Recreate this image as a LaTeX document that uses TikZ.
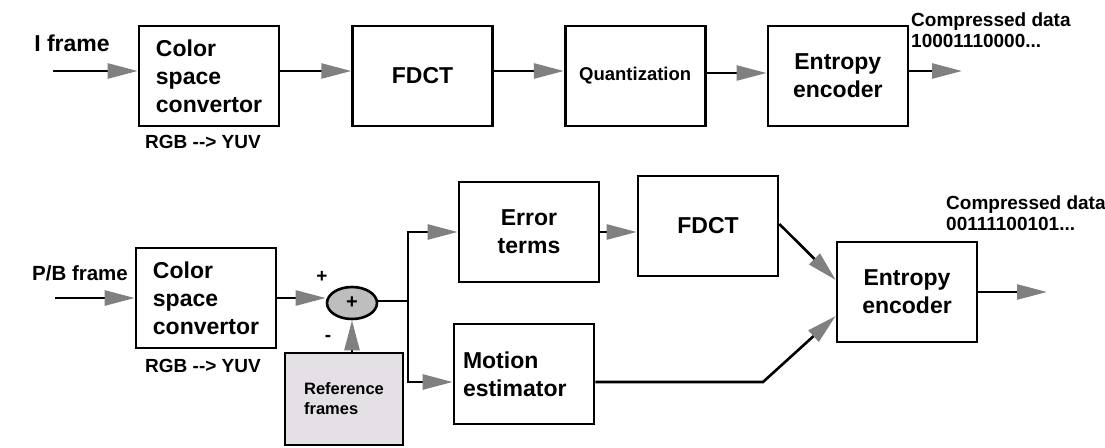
\documentclass[tikz,border=0pt]{standalone}
\usepackage{fontspec}
\setmainfont{Liberation Sans}
\usetikzlibrary{
	positioning,
	arrows.meta,
	shapes.geometric}
\definecolor{tipgray}{RGB}{128,128,128}
\definecolor{refgray}{RGB}{228,224,230}
\definecolor{sumgray}{RGB}{190,190,190}
\tikzset{
	line size/.store in=\lwidth,
	line size=2.6pt,
	block/.style={
		rectangle,
		draw=black,
		line width=\lwidth,
		minimum width=140pt,
		minimum height=100pt,
		inner sep=0pt,
		align=center,
		font=\bfseries\fontsize{23}{28}\selectfont
	},
	small block/.style={
		block,
		font=\bfseries\fontsize{18.5}{22}\selectfont
	},
	ref block/.style={
		block,
		fill=refgray,
		minimum width=118pt,
		minimum height=92pt,
		font=\bfseries\fontsize{16.5}{20}\selectfont
	},
	sum point/.style={
		ellipse,
		draw=black,
		fill=sumgray,
		line width=\lwidth,
		minimum width=50pt,
		minimum height=32pt,
		inner sep=0pt,
		font=\bfseries\fontsize{20}{20}\selectfont
	},
	label text/.style={
		inner sep=0pt,
		font=\bfseries\fontsize{23}{28}\selectfont
	},
	note/.style={
		inner sep=0pt,
		align=left,
		font=\bfseries\fontsize{19}{21}\selectfont
	},
	flow/.style={
		line width=\lwidth,
		-{Triangle[length=30pt, width=15pt, color=tipgray]}
	},
}
\begin{document}
\begin{tikzpicture}[x=1pt, y=-1pt]
	\useasboundingbox (0,0) rectangle (1105,447);
	% I frame
	\node[block, align=left]             (cscA)  at (209,76) {Color\\space\\convertor};
	\node[block, right=71pt of cscA]     (fdctA) {FDCT};
	\node[small block, right=70pt of fdctA] (quantA) {Quantization};
	\node[block, right=60pt of quantA]   (entA)  {Entropy\\encoder};
	\node[label text]                    (iframe) at (72,43) {I frame};
	\node[note]                          (rgbA)  at (203,142) {RGB -{}-> YUV};
	\node[note, anchor=west]             (dataA) at (911,30) {Compressed data\\10001110000...};
	\coordinate (inA)  at (53,71);
	\coordinate (outA) at (962,71);
%
	\draw[flow] (inA) -- (inA -| cscA.west);
	\draw[flow] (cscA.east |- inA) -- (fdctA.west |- inA);
	\draw[flow] (fdctA.east |- inA) -- (quantA.west |- inA);
	\draw[flow] ([yshift=3pt]quantA.east) -- ([yshift=3pt]entA.west);
	\draw[flow] (entA.east |- outA) -- (outA);
	% P/B frame
	\node[block, align=left]             (cscB)  at (206,298) {Color\\space\\convertor};
	\node[sum point]                     (sum)   at (352,303) {+};
	\node[ref block, align=left]         (refF)  at (344,399) {Reference\\frames};
	\node[block]                         (errT)  at (529,232) {Error\\terms};
	\node[block]                         (fdctB) at (708,226) {FDCT};
	\node[block, align=left, text width=122pt] (motE) at (524,374) {Motion\\estimator};
	\node[block]                         (entB)  at (907,292) {Entropy\\encoder};
	\node[label text, font=\bfseries\fontsize{20.5}{24}\selectfont] (pbframe) at (80,273) {P/B frame};
	\node[note]                          (rgbB)  at (203,366) {RGB -{}-> YUV};
	\node[note]                          (plus)  at (322,277) {+};
	\node[note]                          (minus) at (328,338) {-};
	\node[note, anchor=west]             (dataB) at (946,213) {Compressed data\\00111100101...};
	\coordinate (inB)   at (55,298);
	\coordinate (split) at (408,301);
	\coordinate (kink)  at (763,382);
	\coordinate (outB)  at (1047,292);
%
	\draw[flow] (inB) -- (inB -| cscB.west);
	\draw[flow] (cscB.east) -- (cscB.east -| sum.west);
	\draw[flow] (refF.north -| sum.south) -- (sum.south);
	\draw[line width=\lwidth] (sum.east |- split) -- (split);
	\draw[flow] (split) |- (errT.west);
	\draw[flow] (split) |- ([yshift=-8pt]motE.west);
	\draw[flow] (errT.east) -- (errT.east -| fdctB.west);
	\draw[flow] ([yshift=2pt]fdctB.east) -- ([yshift=12pt]entB.west);
	\draw[flow] ([yshift=-8pt]motE.east) -- (kink) -- ([yshift=-24pt]entB.west);
	\draw[flow] (entB.east) -- (outB);
\end{tikzpicture}
\end{document}
